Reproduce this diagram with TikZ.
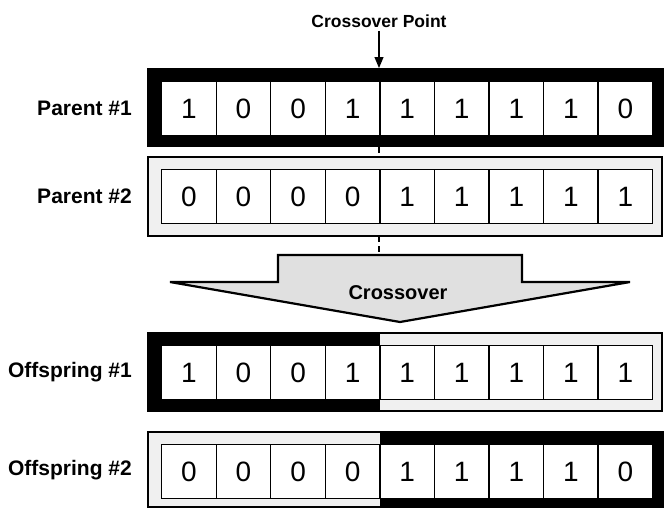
\documentclass[tikz,border=0pt]{standalone}
\usepackage{fontspec}
\setmainfont{Liberation Sans}
\usetikzlibrary{arrows.meta}
\begin{document}
\begin{tikzpicture}[x=1pt,y=-1pt,
  darkband/.style={fill=black},
  lightband/.style={fill=black!6, draw=black, line width=1.6pt},
  bitcell/.style={draw=black, line width=1.3pt, fill=white,
    minimum width=54.56pt, minimum height=54pt, inner sep=0pt,
    anchor=north west, font=\fontsize{28}{28}\selectfont},
  rowlabel/.style={font=\bfseries\fontsize{21}{21}\selectfont, anchor=east, inner sep=0pt},
  bigarrow/.style={fill=black!12, draw=black, line width=2.2pt, line join=miter},
  cutline/.style={draw=black, line width=1.2pt, dash pattern=on 6pt off 4pt},
]
\useasboundingbox (0,0) rectangle (664,509);

% chromosome frames
\fill[darkband] (147,68) rectangle (664,147);
\draw[lightband] (148,157) rectangle (662,236);
\draw[lightband] (148,333) rectangle (662,411);
\fill[darkband] (147,332.2) rectangle (380,411.8);
\draw[lightband] (148,432) rectangle (662,507);
\fill[darkband] (380,431.2) rectangle (664,507.8);

% bit strings
\foreach \b [count=\i] in {1,0,0,1,1,1,1,1,0}
  \node[bitcell] (pa\i) at ({161+(\i-1)*54.56},81) {\b};
\foreach \b [count=\i] in {0,0,0,0,1,1,1,1,1}
  \node[bitcell] (pb\i) at ({161+(\i-1)*54.56},169) {\b};
\foreach \b [count=\i] in {1,0,0,1,1,1,1,1,1}
  \node[bitcell] (oa\i) at ({161+(\i-1)*54.56},345) {\b};
\foreach \b [count=\i] in {0,0,0,0,1,1,1,1,0}
  \node[bitcell] (ob\i) at ({161+(\i-1)*54.56},444) {\b};

% row labels
\node[rowlabel] (lpa) at (132,108) {Parent \#1};
\node[rowlabel] (lpb) at (132,196) {Parent \#2};
\node[rowlabel] (loa) at (132,372) {Offspring \#1};
\node[rowlabel] (lob) at (132,470) {Offspring \#2};

% crossover point marker
\node[font=\bfseries\fontsize{17.5}{17.5}\selectfont] (cp) at (379,21) {Crossover Point};
\coordinate (cptip) at (379,68);
\draw[line width=1.2pt, -{Triangle[width=9pt,length=11pt]}] (cp.south) -- (cptip);

% cut line continuing below the parents
\coordinate (cutA) at (379,147);
\coordinate (cutB) at (379,157);
\coordinate (cutC) at (379,236);
\coordinate (cutD) at (379,255);
\draw[cutline] (cutA) -- (cutB);
\draw[cutline] (cutC) -- (cutD);

% big crossover arrow
\draw[bigarrow] (278,255) -- (522,255) -- (522,282) -- (630,282)
  -- (400,322) -- (170,282) -- (278,282) -- cycle;
\node[font=\bfseries\fontsize{20}{20}\selectfont] (xo) at (398,293) {Crossover};
\end{tikzpicture}
\end{document}
